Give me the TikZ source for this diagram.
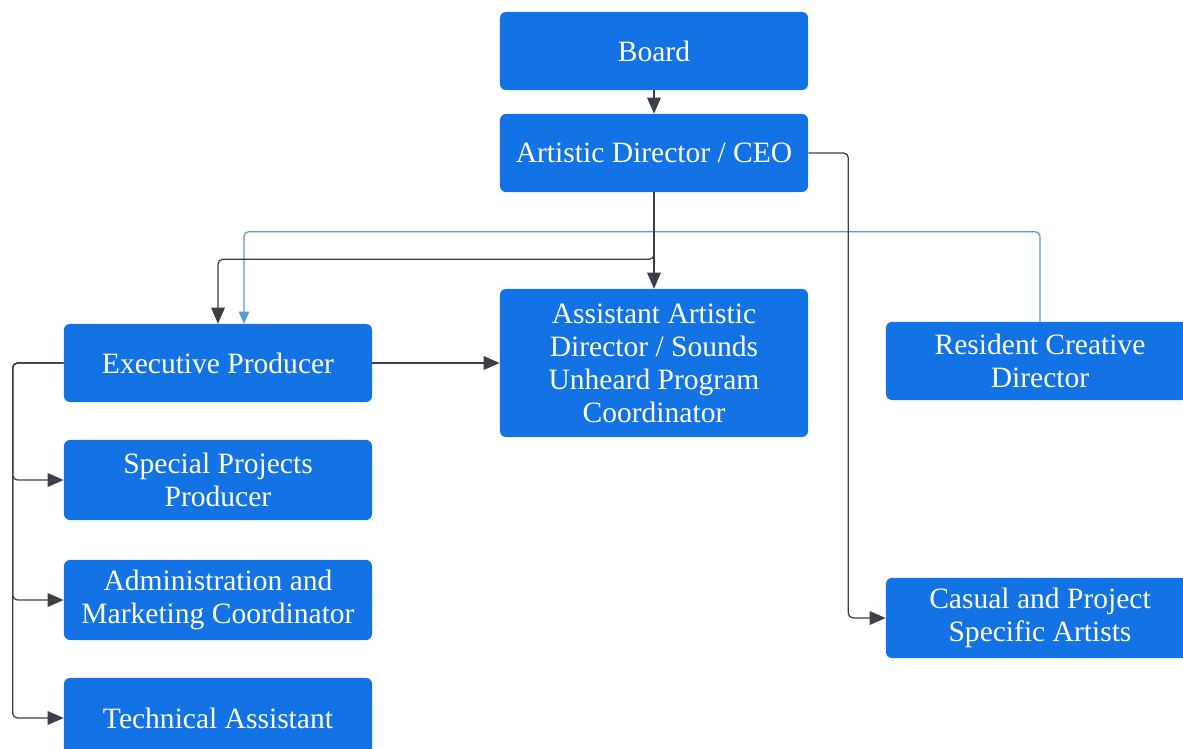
\documentclass[tikz,border=0pt]{standalone}
\usepackage{fontspec}
\setmainfont{Liberation Serif}
\usetikzlibrary{calc, arrows.meta}
\definecolor{boxblue}{RGB}{20,115,228}
\definecolor{linegray}{RGB}{58,64,72}
\definecolor{lineblue}{RGB}{86,156,214}

\begin{document}
\begin{tikzpicture}[x=0.025cm, y=-0.025cm,
        role/.style={draw=none, fill=boxblue, rounded corners=0.15cm, text=white,
            minimum width=7.7cm, minimum height=1.95cm, align=center,
            font=\fontsize{21}{23.5}\selectfont, inner sep=2pt},
        link/.style={draw=linegray, line width=0.9pt, rounded corners=0.12cm,
            -{Triangle[length=0.4cm, width=0.34cm]}},
        bluelink/.style={draw=lineblue, line width=0.9pt, rounded corners=0.12cm,
            -{Triangle[length=0.3cm, width=0.26cm]}}]
        \useasboundingbox (0,0) rectangle (1183,749);

        % boxes
        \node[role] (board) at (654,51) {Board};
        \node[role] (ceo) at (654,153) {Artistic Director / CEO};
        \node[role] (exec) at (218,363) {Executive Producer};
        \node[role, minimum height=3.7cm] (assist) at (654,363)
            {Assistant Artistic\\Director / Sounds\\Unheard Program\\Coordinator};
        \node[role] (resident) at (1040,361) {Resident Creative\\Director};
        \node[role, minimum height=2cm] (special) at (218,480) {Special Projects\\Producer};
        \node[role, minimum height=2cm] (admin) at (218,600) {Administration and\\Marketing Coordinator};
        \node[role, minimum height=2cm] (tech) at (218,718) {Technical Assistant};
        \node[role, minimum height=2cm] (casual) at (1040,618) {Casual and Project\\Specific Artists};

        % connectors
        \draw[bluelink] (resident.north) -- ++(0,-90) -| ($(exec.north)+(26,0)$);
        \draw[link] (board) -- (ceo);
        \draw[link] (ceo.south) -- (assist.north);
        \draw[link] (ceo.south) -- ++(0,67) -| (exec.north);
        \draw[link] (ceo.east) -- ++(40,0) |- (casual.west);
        \draw[link] (exec.east) -- (assist.west);
        \draw[link] (exec.west) -- ++(-51,0) |- (special.west);
        \draw[link] (exec.west) -- ++(-51,0) |- (admin.west);
        \draw[link] (exec.west) -- ++(-51,0) |- (tech.west);
\end{tikzpicture}
\end{document}
